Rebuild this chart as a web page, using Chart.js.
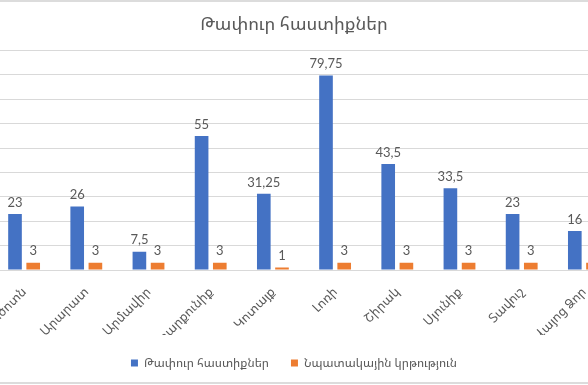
<!DOCTYPE html>
<html>
<head>
<meta charset="utf-8">
<script src="https://cdn.jsdelivr.net/npm/chart.js@4.4.1/dist/chart.umd.min.js"></script>
<style>
  html, body { margin: 0; padding: 0; background: #fff; }
  body { width: 588px; height: 385px; overflow: hidden; position: relative; }
  .rule { position: absolute; left: 0; width: 588px; height: 2px; background: #dcdcdc; }
  #wrap { position: absolute; left: -47px; top: 2px; width: 682px; height: 380px; }
</style>
</head>
<body>
<div class="rule" style="top:0"></div>
<div class="rule" style="top:382px"></div>
<div id="wrap"><canvas id="chart"></canvas></div>
<script>
const categories = ['Արագածոտն', 'Արարատ', 'Արմավիր', 'Գեղարքունիք', 'Կոտայք', 'Լոռի', 'Շիրակ', 'Սյունիք', 'Տավուշ', 'Վայոց Ձոր'];
const vacancies = [23, 26, 7.5, 55, 31.25, 79.75, 43.5, 33.5, 23, 16];
const targeted = [3, 3, 3, 3, 1, 3, 3, 3, 3, 3];
const seriesNames = ['Թափուր հաստիքներ', 'Նպատակային կրթություն'];
const chartTitle = 'Թափուր հաստիքներ';
const yMax = 90;
const yStep = 10;

const FONT = "Lato, 'Noto Sans Armenian', 'DejaVu Sans', sans-serif";
const TEXT = '#595959';

// Excel-style labels: decimal comma
const fmt = v => String(v).replace('.', ',');

const valueLabels = {
    id: 'valueLabels',
    afterDatasetsDraw(chart) {
        const ctx = chart.ctx;
        ctx.save();
        ctx.font = '13px ' + FONT;
        ctx.fillStyle = TEXT;
        ctx.textAlign = 'center';
        ctx.textBaseline = 'bottom';
        chart.data.datasets.forEach((ds, i) => {
            chart.getDatasetMeta(i).data.forEach((bar, j) => {
                ctx.fillText(fmt(ds.data[j]), bar.x, bar.y - 5);
            });
        });
        ctx.restore();
    }
};

const ctx = document.getElementById('chart').getContext('2d');
new Chart(ctx, {
    type: 'bar',
    data: {
        labels: categories,
        datasets: [
            { label: seriesNames[0], data: vacancies, backgroundColor: '#4472C4',
              categoryPercentage: 0.585, barPercentage: 0.75 },
            { label: seriesNames[1], data: targeted, backgroundColor: '#ED7D31',
              categoryPercentage: 0.585, barPercentage: 0.75 }
        ]
    },
    options: {
        responsive: true,
        maintainAspectRatio: false,
        animation: false,
        layout: { padding: { left: 20, right: 20, top: 0, bottom: 3 } },
        plugins: {
            title: {
                display: true,
                text: chartTitle,
                color: TEXT,
                font: { family: FONT, size: 18, weight: 'normal' },
                padding: { top: 11, bottom: 16 }
            },
            legend: {
                position: 'bottom',
                labels: {
                    boxWidth: 7, boxHeight: 7, padding: 22,
                    color: TEXT,
                    font: { family: FONT, size: 12 }
                }
            },
            tooltip: { enabled: false }
        },
        scales: {
            x: {
                grid: { display: false },
                border: { display: false },
                ticks: {
                    color: TEXT, autoSkip: false, minRotation: 45, maxRotation: 45,
                    padding: 6,
                    font: { family: FONT, size: 13 }
                },
                afterFit: s => { s.height = 65; }
            },
            y: {
                min: 0, max: yMax,
                grid: { color: '#d9d9d9', drawTicks: false },
                border: { display: false },
                ticks: { stepSize: yStep, color: TEXT, font: { family: FONT, size: 12 } },
                afterFit: s => { s.width = 20; }
            }
        }
    },
    plugins: [valueLabels]
});
</script>
</body>
</html>
